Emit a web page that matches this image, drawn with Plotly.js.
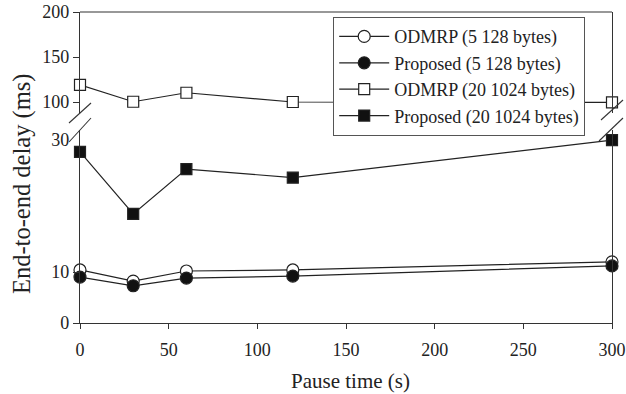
<!DOCTYPE html>
<html>
<head>
<meta charset="utf-8">
<script src="https://cdn.plot.ly/plotly-3.0.1.min.js"></script>
<style>html,body{margin:0;padding:0;background:#fff;}#chart{width:626px;height:394px;}</style>
</head>
<body>
<div id="chart"></div>
<script>
// Data
const pauseTime = [0, 30, 60, 120, 300];
const odmrpSmall = [10.4, 8.2, 10.2, 10.4, 12.0];      // ODMRP (5 128 bytes)
const proposedSmall = [9.0, 7.3, 8.8, 9.2, 11.2];      // Proposed (5 128 bytes)
const odmrpLarge = [119, 100.3, 110.3, 100, 99.5];     // ODMRP (20 1024 bytes)
const proposedLarge = [28.2, 18.8, 25.6, 24.3, 30.0];  // Proposed (20 1024 bytes)
const seriesNames = ["ODMRP (5 128 bytes)", "Proposed (5 128 bytes)", "ODMRP (20 1024 bytes)", "Proposed (20 1024 bytes)"];
const xTicks = [0, 50, 100, 150, 200, 250, 300];
const xTitle = 'Pause time (s)';
const yTitle = 'End-to-end delay (ms)';

const LC = '#222';
const AX = '#333';
const FONT = '"Liberation Serif"';

function tr(y, name, symbol, fill, axis) {
  return {
    x: pauseTime, y: y, name: name, type: 'scatter', mode: 'lines+markers',
    yaxis: axis, cliponaxis: false,
    line: {color: LC, width: 1.2},
    marker: {symbol: symbol, size: symbol === 'circle' ? 12 : 11, color: fill,
             line: {color: LC, width: 1.2}}
  };
}

const data = [
  tr(odmrpSmall, seriesNames[0], 'circle', '#fff', 'y'),
  tr(proposedSmall, seriesNames[1], 'circle', '#111', 'y'),
  tr(odmrpLarge, seriesNames[2], 'square', '#fff', 'y3'),
  tr(proposedLarge, seriesNames[3], 'square', '#111', 'y2')
];

const tickFont = {family: FONT, size: 18, color: '#222'};
const yBase = {
  showgrid: false, zeroline: false, showline: true, linecolor: AX, linewidth: 1.2,
  mirror: true, ticks: 'outside', ticklen: 6, tickcolor: AX, tickfont: tickFont,
  anchor: 'x', fixedrange: true
};

// paper fraction helpers (plot area: top pixel 12, bottom pixel 323, left 80, right 612)
function fy(p) { return (323 - p) / 311; }
function fx(p) { return (p - 80) / 532; }

function seg(x0, y0, x1, y1) {
  return {type: 'line', xref: 'paper', yref: 'paper', x0: fx(x0), y0: fy(y0), x1: fx(x1), y1: fy(y1),
          line: {color: AX, width: 1.1}};
}

const layout = {
  width: 626, height: 394,
  margin: {l: 80, r: 14, t: 12, b: 71},
  paper_bgcolor: '#fff', plot_bgcolor: 'rgba(0,0,0,0)',
  font: {family: FONT, color: '#222'},
  showlegend: true,
  xaxis: {
    range: [0, 300], tickvals: xTicks, ticks: 'outside', ticklen: 5, tickcolor: AX,
    ticklabelstandoff: 5,
    showgrid: false, zeroline: false, showline: true, linecolor: AX, linewidth: 1.2,
    mirror: false, anchor: 'y', tickfont: tickFont, fixedrange: true
  },
  yaxis: Object.assign({}, yBase, {domain: [0, fy(256.7)], range: [0, 13], tickvals: [0, 10]}),
  yaxis2: Object.assign({}, yBase, {domain: [fy(272), fy(130)], range: [10, 31.52], tickvals: [30],
                                    tickcolor: 'rgba(0,0,0,0)'}),
  yaxis3: Object.assign({}, yBase, {domain: [fy(113), 1], range: [87.8, 200], tickvals: [100, 150, 200]}),
  legend: {
    x: fx(333), y: fy(17), xanchor: 'left', yanchor: 'top',
    bgcolor: '#fff', bordercolor: '#555', borderwidth: 1.2,
    font: {family: FONT, size: 18, color: '#222'},
    itemwidth: 50, tracegroupgap: 0
  },
  annotations: [{
    text: yTitle, textangle: -90, xref: 'paper', yref: 'paper',
    x: fx(22), y: fy(184), xanchor: 'center', yanchor: 'middle', showarrow: false,
    font: {family: FONT, size: 24.5, color: '#222'}
  }, {
    text: xTitle, xref: 'paper', yref: 'paper',
    x: fx(350), y: fy(381), xanchor: 'center', yanchor: 'middle', showarrow: false,
    font: {family: FONT, size: 21, color: '#222'}
  }],
  shapes: [
    {type: 'line', xref: 'paper', yref: 'paper', x0: 0, y0: 1, x1: 1, y1: 1, line: {color: AX, width: 1.2}},
    seg(69, 123, 91, 103), seg(69, 142, 91, 118),
    seg(601, 120, 623, 100), seg(599, 141, 623, 118)
  ]
};

Plotly.newPlot('chart', data, layout, {displayModeBar: false, staticPlot: true});
</script>
</body>
</html>
